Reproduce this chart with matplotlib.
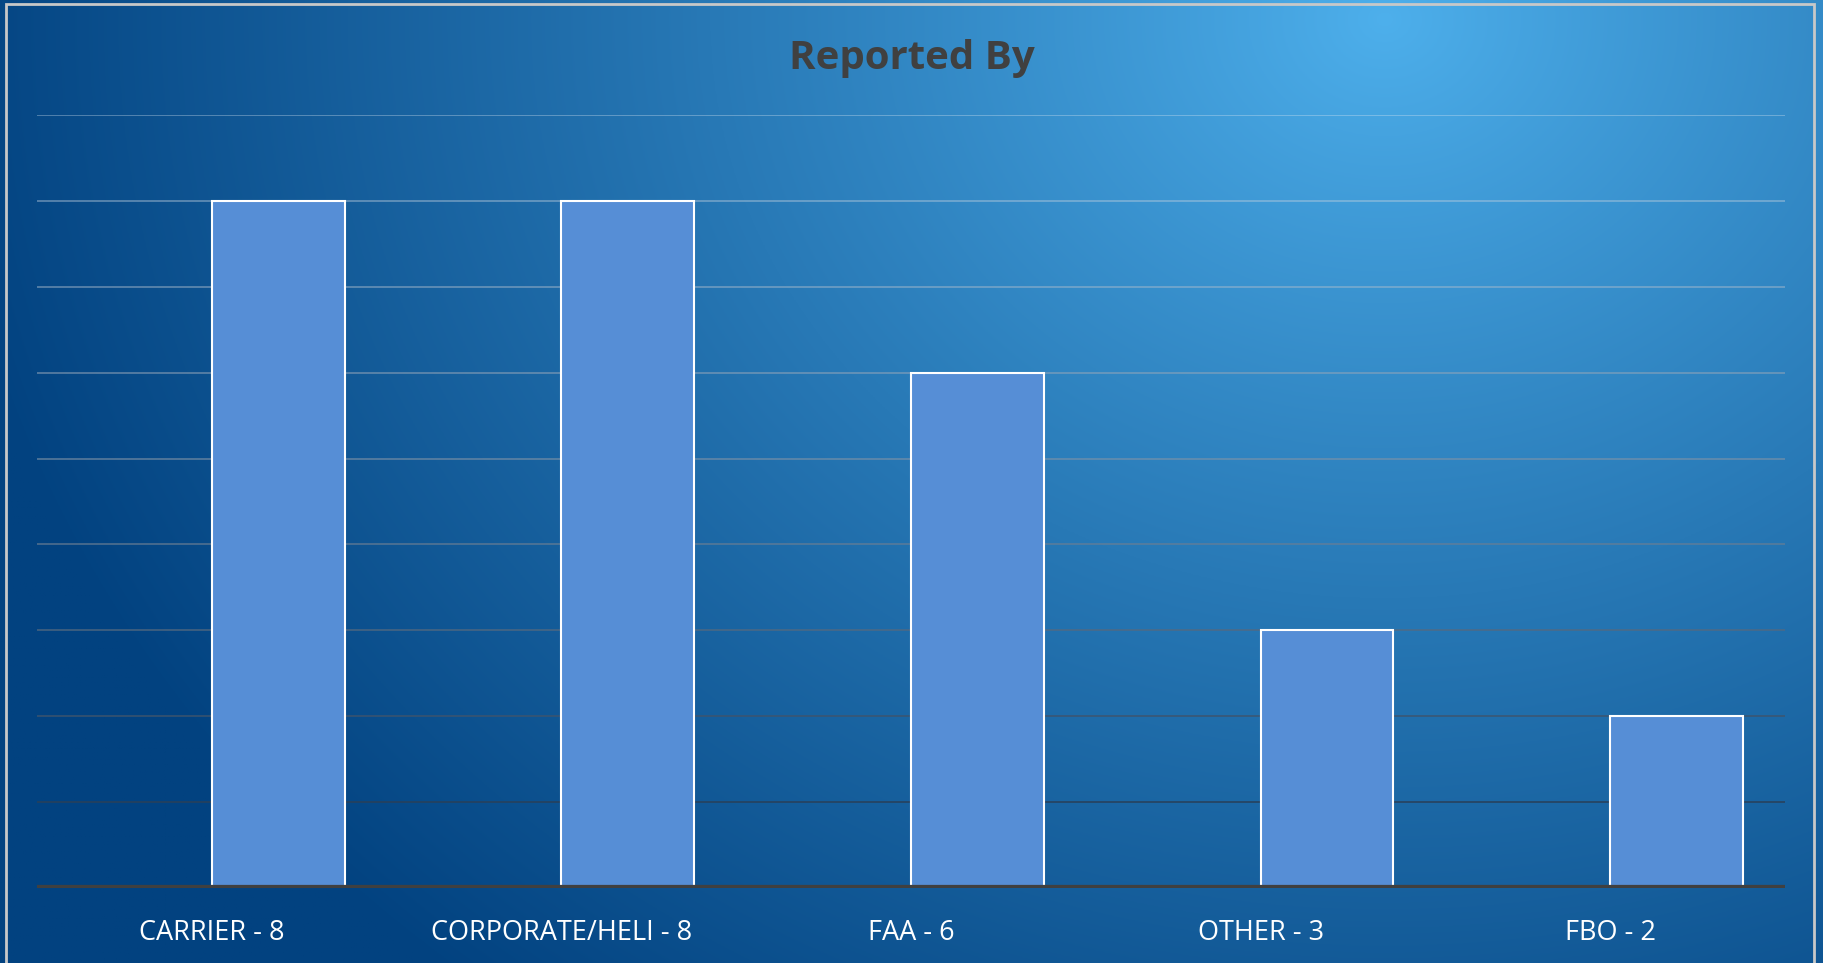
import numpy as np
import matplotlib
matplotlib.use("Agg")
import matplotlib.pyplot as plt
from matplotlib.patches import Rectangle

categories = ["CARRIER", "CORPORATE/HELI", "FAA", "OTHER", "FBO"]
counts = [8, 8, 6, 3, 2]
tick_labels = [f"{c} - {v}" for c, v in zip(categories, counts)]

W, H = 1823, 963
fig = plt.figure(figsize=(W / 100, H / 100), dpi=100)

# radial gradient background
bg = fig.add_axes([0, 0, 1, 1], zorder=0)
yy, xx = np.mgrid[0:1:400j, 0:1:760j]
d = np.sqrt(((xx - 0.76) / 0.8) ** 2 + ((yy - 0.02) / 1.3) ** 2)
d = np.clip(d, 0, 1) ** 0.9
c0 = np.array([78, 176, 236]) / 255
c1 = np.array([2, 66, 128]) / 255
img = c0[None, None, :] * (1 - d[..., None]) + c1[None, None, :] * d[..., None]
bg.imshow(img, extent=[0, 1, 1, 0], aspect="auto")
bg.set_xlim(0, 1)
bg.set_ylim(1, 0)
bg.axis("off")
# outer frame, open at the bottom (runs past the image edge)
bg.add_patch(Rectangle((6 / W, -0.5), (1814 - 6) / W, 1.5 - 4 / H, fill=False,
                       edgecolor="#c8c8c8", linewidth=2, transform=bg.transAxes,
                       clip_on=False))

# chart area
left, right = 37 / W, 1785 / W
top, bottom = 115 / H, 888 / H
ax = fig.add_axes([left, 1 - bottom, right - left, bottom - top], zorder=1)
ax.patch.set_alpha(0)

x = np.arange(len(categories))
ax.set_xlim(-0.5, len(categories) - 0.5)
ax.set_ylim(0, 9)

# gridlines: light at the top, dark toward the bottom
for v in range(1, 10):
    t = (v - 1) / 8
    light = np.array([0.85, 0.9, 0.95])
    dark = np.array([0.16, 0.25, 0.35])
    col = dark * (1 - t) + light * t
    alpha = 0.8 * (1 - t) + 0.35 * t
    ax.axhline(v, color=col, alpha=alpha, linewidth=1.4, zorder=1)

ax.bar(x, counts, width=0.38, align="edge", color="#568ed6",
       edgecolor="white", linewidth=1.5, zorder=2)
ax.axhline(0, color="#404040", linewidth=4.5, zorder=3)

for s in ax.spines.values():
    s.set_visible(False)
ax.set_yticks([])
ax.set_xticks(x)
ax.set_xticklabels(tick_labels, color="white", fontsize=19.5, family="Open Sans")
ax.tick_params(axis="x", length=0, pad=22)

fig.text(0.5, 1 - 59 / H, "Reported By", ha="center", va="center",
         fontsize=29, fontweight="bold", color="#404040", family="Open Sans")

fig.savefig("out.png", dpi=100)
